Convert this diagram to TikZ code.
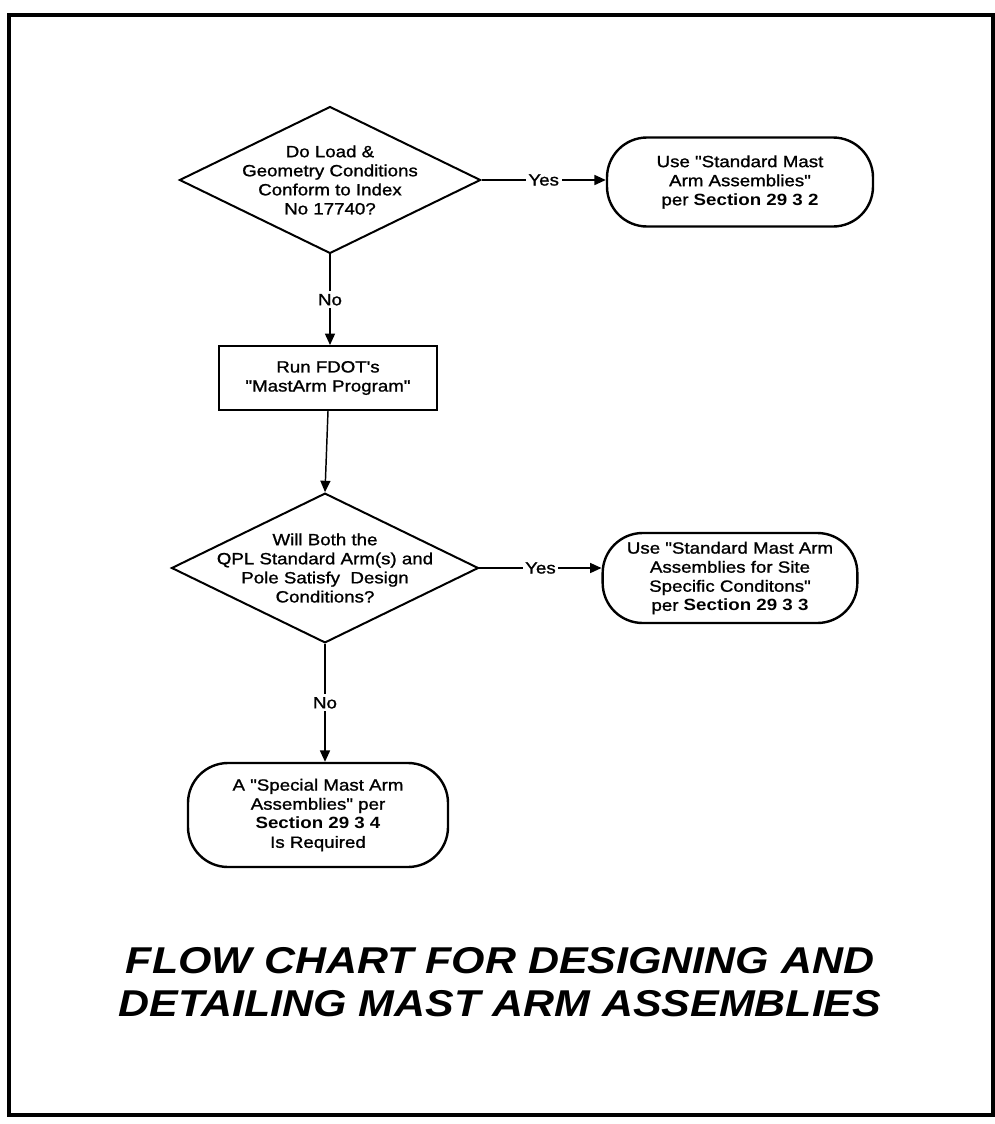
\documentclass[tikz,border=0pt]{standalone}
\usepackage{fontspec}
\setmainfont{Liberation Sans}[Ligatures=TeXOff,FakeStretch=1.15,UprightFeatures={FakeBold=1.2}]
\usetikzlibrary{arrows.meta,shapes.geometric}

\begin{document}
\begin{tikzpicture}[x=0.75pt,y=-0.75pt,
  font=\fontsize{12.2}{14.3}\selectfont,
  >={Triangle[length=8.5pt,width=7.5pt]},
  query/.style={diamond,draw,line width=1.5pt,shape aspect=2.05,align=center},
  endbox/.style={draw,line width=1.8pt,rounded corners=30pt,align=center,inner sep=2pt},
  task/.style={draw,line width=1.5pt,align=center,minimum width=163.5pt,minimum height=48pt},
  link/.style={->,line width=1.1pt},
  ans/.style={fill=white,inner sep=2pt}]

\useasboundingbox (0,0) rectangle (995,1124);
\draw[line width=3pt] (9,15) rectangle (993,1115);

% first check
\node[query,inner xsep=-2pt,inner ysep=-2pt] (q1) at (330,180)
  {Do Load \&\\ Geometry Conditions\\ Conform to Index\\ No 17740?};
\node[endbox,minimum width=199.5pt,minimum height=66.75pt] (std) at (740,182)
  {Use "Standard Mast\\ Arm Assemblies"\\ per \textbf{Section 29 3 2}};

\node[task] (run) at (328,378) {Run FDOT's\\ "MastArm Program"};

% second check
\node[query,inner xsep=-13pt,inner ysep=-3pt] (q2) at (325,568)
  {Will Both the\\ QPL Standard Arm(s) and\\ Pole Satisfy \ Design\\ Conditions?};
\node[endbox,minimum width=191pt,minimum height=67.5pt] (site) at (730,578)
  {Use "Standard Mast Arm\\ Assemblies for Site\\ Specific Conditons"\\ per \textbf{Section 29 3 3}};

\node[endbox,minimum width=195pt,minimum height=78pt] (special) at (318,815)
  {A "Special Mast Arm\\ Assemblies" per\\ \textbf{Section 29 3 4}\\ Is Required};

\draw[link] (q1.east) -- node[ans] {Yes} (q1.east -| std.west);
\draw[link] (q1.south) -- node[ans] {No} (q1.south |- run.north);
\draw[link] (run.south) -- (q2.north);
\draw[link] (q2.east) -- node[ans] {Yes} (q2.east -| site.west);
\draw[link] (q2.south) -- node[ans] {No} (q2.south |- special.north);

\node[align=center,font=\fontsize{28}{32.5}\selectfont\bfseries\itshape] (title) at (500,982)
  {FLOW CHART FOR DESIGNING AND\\ DETAILING MAST ARM ASSEMBLIES};
\end{tikzpicture}
\end{document}
